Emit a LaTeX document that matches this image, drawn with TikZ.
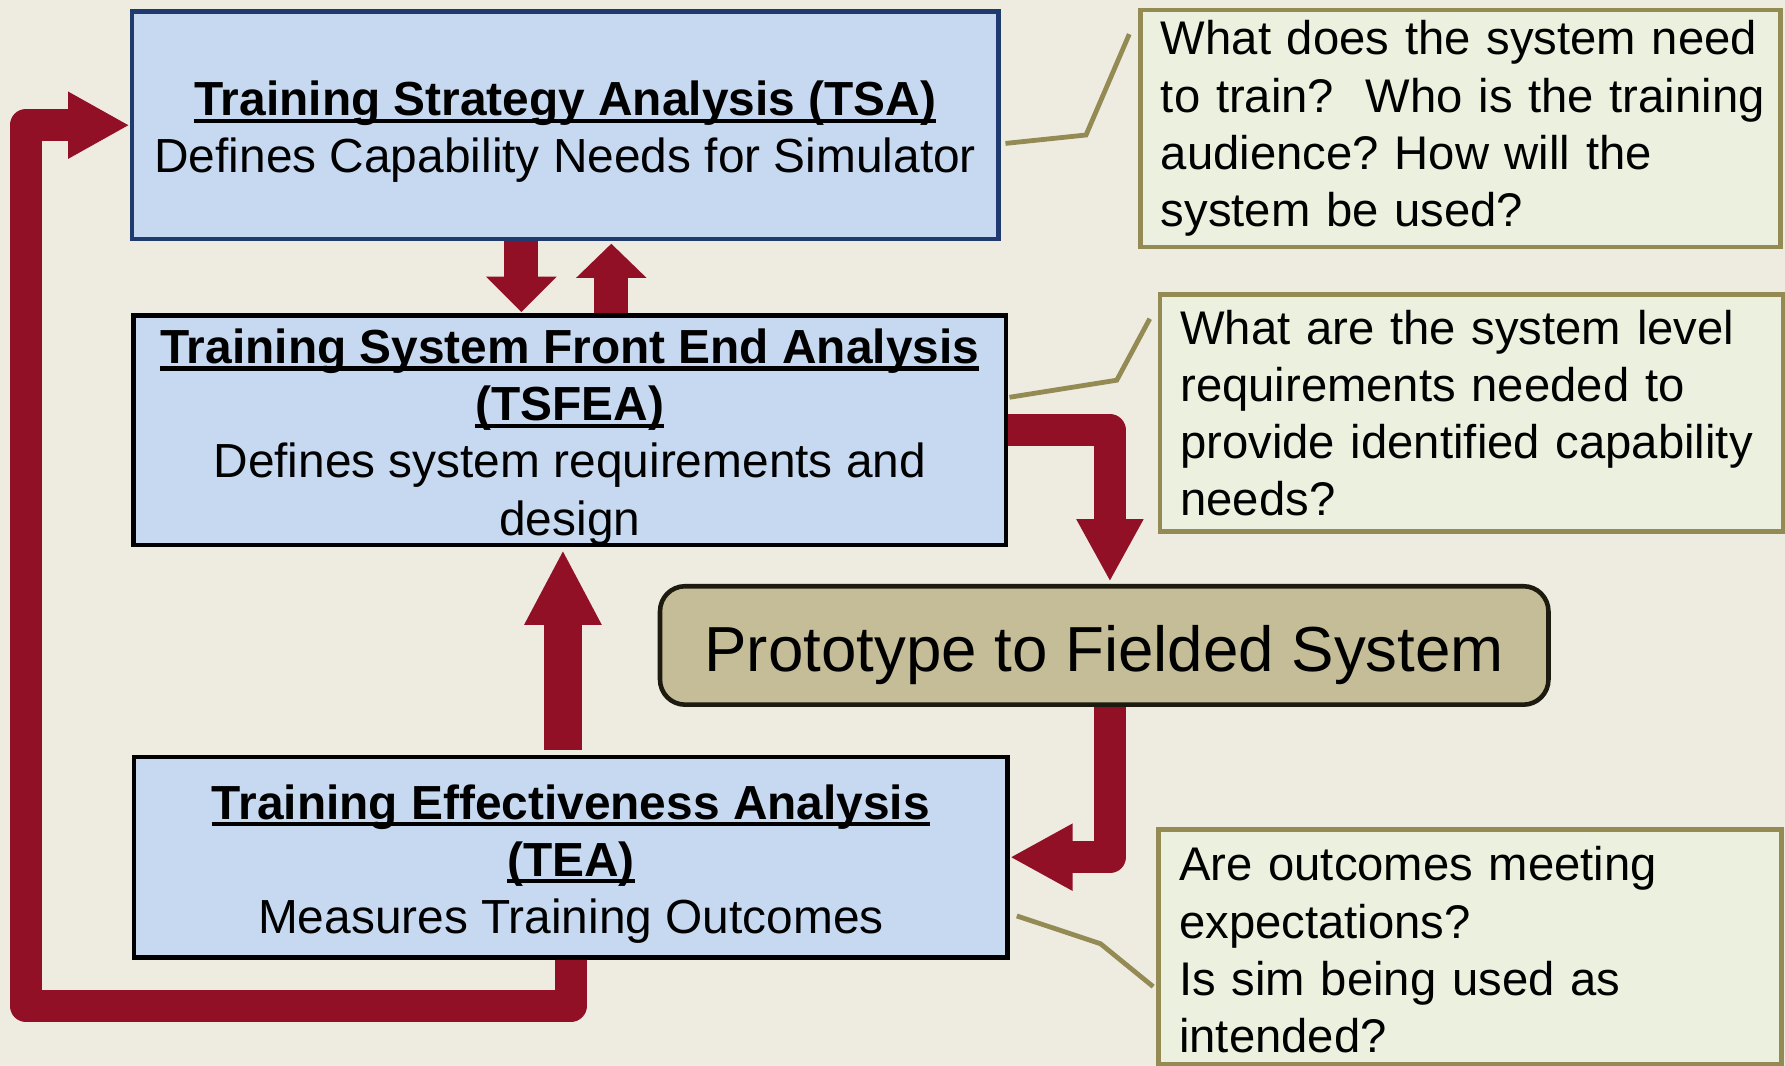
\documentclass[tikz,border=0pt]{standalone}
\usepackage{fontspec}
\setmainfont{Liberation Sans}
\usetikzlibrary{arrows.meta,calc,backgrounds}
\definecolor{bgtan}{HTML}{EEECE1}
\definecolor{boxblue}{HTML}{C6D9F1}
\definecolor{navyb}{HTML}{1F3A6E}
\definecolor{protofill}{HTML}{C4BD97}
\definecolor{protoline}{HTML}{1D1B10}
\definecolor{calfill}{HTML}{EBF1DE}
\definecolor{olivec}{HTML}{948A54}
\definecolor{arrowred}{HTML}{921026}
\newcommand{\myBody}{\fontsize{11.95pt}{14.3pt}\selectfont\frenchspacing}
\newcommand{\myNote}{\fontsize{11.8pt}{14.3pt}\selectfont\frenchspacing}
\newcommand{\myBig}{\fontsize{15.9pt}{19pt}\selectfont}
\newcommand{\ttl}[1]{\textbf{\setbox0\hbox{#1}\rlap{\rule[-1.8pt]{\wd0}{1.05pt}}\box0}}
\newcommand{\topstrut}[1]{\rule{0pt}{#1}}
\begin{document}
\frenchspacing
\begin{tikzpicture}[x=0.01cm,y=-0.01cm,
  stage/.style={draw, line width=1.14pt, fill=boxblue, align=center, inner sep=0pt, font=\myBody},
  protobox/.style={draw=protoline, line width=1.14pt, fill=protofill, rounded corners=0.22cm, inner sep=0pt, font=\myBig},
  note/.style={draw=olivec, line width=1.14pt, fill=calfill, align=left, inner xsep=0.18cm, inner ysep=0pt, font=\myNote},
  noteline/.style={draw=olivec, line width=1.2pt},
  flow/.style={draw=arrowred, line join=round, line cap=butt}
]
\useasboundingbox (0,0) rectangle (1568,936.4);
\begin{scope}[on background layer]
  \fill[bgtan] (0,0) rectangle (1568,936.4);
\end{scope}

% stage boxes
\node[stage, draw=navyb, minimum width=7.61cm, minimum height=2.00cm] (tsa) at (496.5,110)
  {\topstrut{12pt}\ttl{Training Strategy Analysis (TSA)}\\Defines Capability Needs for Simulator};
\node[stage, minimum width=7.66cm, minimum height=2.00cm] (tsfea) at (500.5,378)
  {\topstrut{12pt}\ttl{Training System Front End Analysis}\\\ttl{(TSFEA)}\\Defines system requirements and\\design};
\node[stage, minimum width=7.67cm, minimum height=1.76cm] (tea) at (501.5,753)
  {\topstrut{12pt}\ttl{Training Effectiveness Analysis}\\\ttl{(TEA)}\\Measures Training Outcomes};
\node[protobox, minimum width=7.80cm, minimum height=1.04cm] (proto) at (970,567)
  {\topstrut{16.2pt}Prototype to Fielded System};

% callouts
\node[note, text width=5.26cm, minimum height=2.08cm] (n1) at (1283,113)
  {\mbox{What does the system need}\\\mbox{to train?\ \ Who is the training}\\\mbox{audience? How will the}\\\mbox{system be used?}};
\node[note, text width=5.11cm, minimum height=2.08cm] (n2) at (1292.5,362.8)
  {\mbox{What are the system level}\\\mbox{requirements needed to}\\\mbox{provide identified capability}\\\mbox{needs?}};
\node[note, text width=5.11cm, minimum height=2.06cm] (n3) at (1291.5,831.5)
  {\topstrut{10.2pt}\mbox{Are outcomes meeting}\\\mbox{expectations?}\\\mbox{Is sim being used as}\\\mbox{intended?}};

% callout leader lines
\coordinate (k1a) at ($(tsa.east)+(4,16)$);
\coordinate (k1b) at (954,118.6);
\coordinate (k1c) at (992,30);
\coordinate (k2a) at ($(tsfea.east)+(1,-29)$);
\coordinate (k2b) at (981,334);
\coordinate (k2c) at (1010,280);
\coordinate (k3a) at ($(tea.east)+(6,51.6)$);
\coordinate (k3b) at (966.7,829);
\coordinate (k3c) at (1013,866.7);
\draw[noteline] (k1a) -- (k1b) -- (k1c);
\draw[noteline] (k2a) -- (k2b) -- (k2c);
\draw[noteline] (k3a) -- (k3b) -- (k3c);

% flow arrows
\coordinate (tipA) at ($(proto.north)+(5,-2)$);
\coordinate (startB) at ($(proto.south)+(5,0)$);
\coordinate (loopBL) at (22.5,883.5);
\begin{scope}[on background layer]
  \draw[flow, line width=0.30cm, -{Triangle[width=0.60cm,length=0.31cm]}]
    ($(tsa.south)+(-38.5,0)$) -- ($(tsfea.north)+(-42.5,-1)$);
  \draw[flow, line width=0.30cm, -{Triangle[width=0.60cm,length=0.30cm]}]
    ($(tsfea.north)+(36.5,0)$) -- ($(tsa.south)+(40.5,2)$);
  \draw[flow, line width=0.33cm, -{Triangle[width=0.63cm,length=0.66cm]}]
    ($(tea.north)+(-7,-4)$) -- ($(tsfea.south)+(-6,2)$);
  \draw[flow, line width=0.28cm, -{Triangle[width=0.55cm,length=0.55cm]}]
    (tsfea.east) -| (tipA);
  \draw[flow, line width=0.28cm, -{Triangle[width=0.55cm,length=0.55cm]}]
    (startB) |- (tea.east);
  \draw[flow, line width=0.28cm, -{Triangle[width=0.55cm,length=0.54cm]}]
    (tea.south) |- (loopBL) |- (tsa.west);
\end{scope}
\end{tikzpicture}
\end{document}
